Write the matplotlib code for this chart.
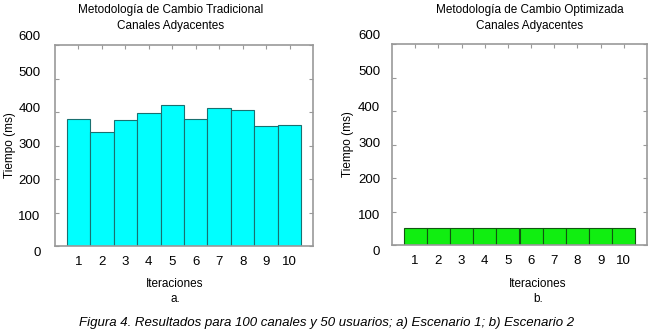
import numpy as np
import matplotlib
matplotlib.use('Agg')
import matplotlib.pyplot as plt
from matplotlib.transforms import ScaledTranslation

plt.rcParams['font.family'] = ['Liberation Sans', 'DejaVu Sans']

iteraciones = [1, 2, 3, 4, 5, 6, 7, 8, 9, 10]
tiempo_tradicional = [379, 341, 376, 398, 421, 379, 411, 406, 358, 361]
tiempo_optimizada = [51, 51, 51, 51, 51, 51, 51, 51, 51, 51]
yticks = [0, 100, 200, 300, 400, 500, 600]

W, H = 657, 336
fig = plt.figure(figsize=(W/100, H/100), dpi=100)


def px_axes(x0, y0, x1, y1):
    # pixel box (top-left origin) -> figure fractions
    return fig.add_axes([x0/W, 1 - y1/H, (x1 - x0)/W, (y1 - y0)/H])


def draw_panel(ax, values, face, edge, label_x, ypad):
    ax.bar(iteraciones, values, width=1.0, color=face, edgecolor=edge, linewidth=0.8)
    ax.set_xlim(0, 11)
    ax.set_ylim(0, 600)
    ax.set_yticks(yticks)
    ax.set_xticks(iteraciones)
    ax.tick_params(axis='y', direction='in', length=3, left=True, right=True,
                   labelsize=9.5, pad=ypad, color='#999999')
    ax.tick_params(axis='x', direction='in', length=3, top=True, bottom=False,
                   labelsize=9.5, pad=7, color='#999999')
    for s in ax.spines.values():
        s.set_color('#999999')
        s.set_linewidth(1.2)
    # the scanned original has its y labels spread a bit wider than the ticks
    for lab, v in zip(ax.get_yticklabels(), yticks):
        dy = (v - 230) / 100 * 2.5 / 100
        lab.set_transform(lab.get_transform() + ScaledTranslation(0, dy, fig.dpi_scale_trans))
    ax.set_ylabel('Tiempo (ms)', fontsize=8.5, va='center', ha='center')
    ax.yaxis.set_label_coords(label_x, 0.5)


ax1 = px_axes(55, 45, 313, 246)
draw_panel(ax1, tiempo_tradicional, '#00FFFF', '#1a7070', (10 - 55) / 258, 10.5)

ax2 = px_axes(392, 44, 647, 245)
draw_panel(ax2, tiempo_optimizada, '#11EE11', '#115511', (348 - 392) / 255, 8.5)

fig.text(171/W, 1 - 18/H, 'Metodología de Cambio Tradicional\nCanales Adyacentes',
         ha='center', va='center', fontsize=8.5, linespacing=1.45)
fig.text(530/W, 1 - 18/H, 'Metodología de Cambio Optimizada\nCanales Adyacentes',
         ha='center', va='center', fontsize=8.5, linespacing=1.45)

fig.text(175/W, 1 - 284/H, 'Iteraciones', ha='center', va='center', fontsize=8.5)
fig.text(175/W, 1 - 299/H, 'a.', ha='center', va='center', fontsize=8.5)
fig.text(538/W, 1 - 284/H, 'Iteraciones', ha='center', va='center', fontsize=8.5)
fig.text(538/W, 1 - 299/H, 'b.', ha='center', va='center', fontsize=8.5)

fig.text(327/W, 1 - 323/H,
         'Figura 4. Resultados para 100 canales y 50 usuarios; a) Escenario 1; b) Escenario 2',
         ha='center', va='center', fontsize=9.5, style='italic')

fig.savefig('out.png', dpi=100)
